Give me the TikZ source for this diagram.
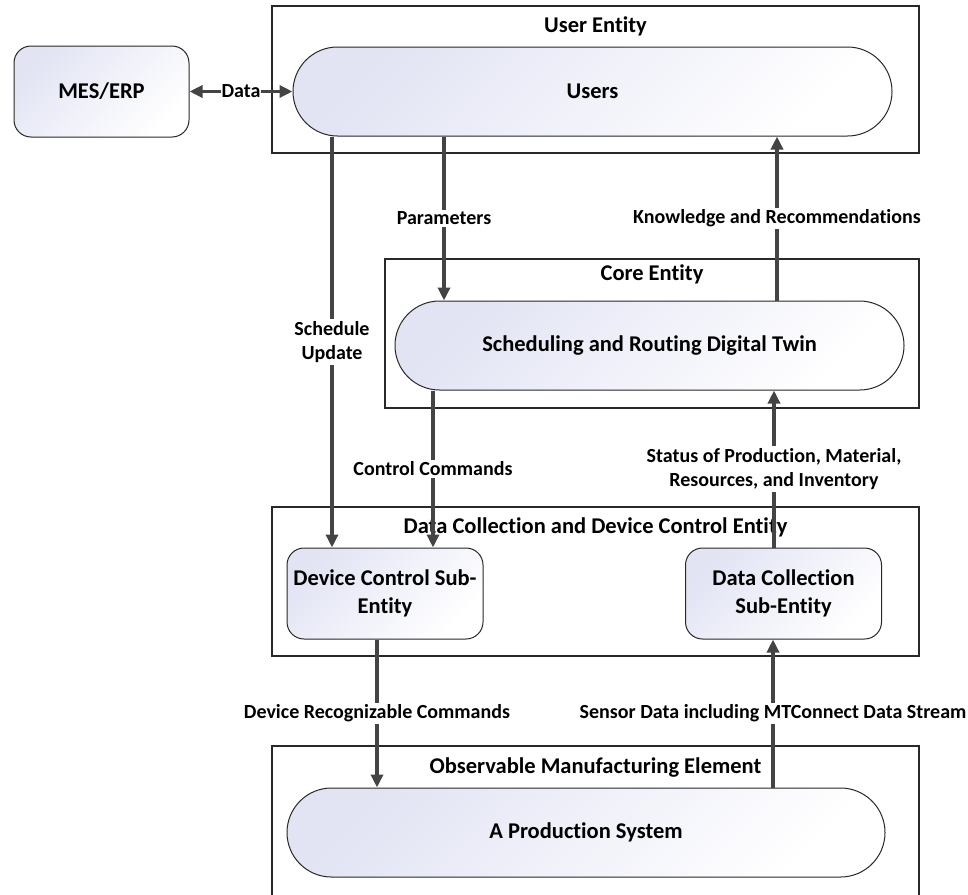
\documentclass[tikz,border=0pt]{standalone}
\usepackage{fontspec}
\setmainfont{Carlito}[Ligatures=NoCommon]
\usetikzlibrary{arrows.meta,positioning,shapes.misc}
\definecolor{EntLavender}{RGB}{226,228,244}
\definecolor{ArrGrey}{RGB}{68,68,68}
\definecolor{EdgeGrey}{RGB}{40,40,40}
\tikzset{
    ent/.style={rectangle, draw=EdgeGrey, line width=1.1pt, inner sep=0pt},
    ttl/.style={font=\fontsize{22.5}{27}\selectfont\bfseries, inner sep=0pt,
                text height=14.5pt, text depth=5pt},
    pill/.style={rounded rectangle, draw=EdgeGrey, line width=1pt,
                 top color=EntLavender, bottom color=white, shading angle=45,
                 minimum width=#1, minimum height=89pt, inner sep=0pt,
                 font=\fontsize{22.5}{27.5}\selectfont\bfseries},
    sub/.style={rectangle, rounded corners=17pt, draw=EdgeGrey, line width=1pt,
                top color=EntLavender, bottom color=white, shading angle=45,
                minimum width=#1, minimum height=91pt, inner sep=0pt, align=center,
                font=\fontsize{22.5}{27.5}\selectfont\bfseries},
    sub/.default=196pt,
    arr/.style={-{Triangle[length=13pt,width=12pt]}, line width=3.5pt, draw=ArrGrey},
    darr/.style={{Triangle[length=13pt,width=12pt]}-{Triangle[length=13pt,width=12pt]},
                 line width=3.5pt, draw=ArrGrey},
    lbl/.style={font=\fontsize{20}{24}\selectfont\bfseries, fill=white,
                inner sep=2pt, align=center},
}
\begin{document}
\begin{tikzpicture}[x=1pt, y=-1pt]
    \useasboundingbox (0,0) rectangle (968,894);
    % entity frames
    \node[ent, minimum width=647pt, minimum height=147pt] (userent) at (595.5,79.5) {};
    \node[ent, minimum width=534pt, minimum height=149pt] (coreent) at (652,333.5) {};
    \node[ent, minimum width=647pt, minimum height=149pt] (dcent)   at (595.5,581.5) {};
    \node[ent, minimum width=647pt, minimum height=174pt] (obsent)  at (595.5,833) {};

    \node[ttl, below=12pt of userent.north] (userttl) {User Entity};
    \node[ttl, below=7pt of coreent.north]  (corettl) {Core Entity};
    \node[ttl, below=12pt of dcent.north]   (dcttl)   {Data Collection and Device Control Entity};
    \node[ttl, below=13pt of obsent.north]  (obsttl)  {Observable Manufacturing Element};

    % inner blocks
    \node[sub=175pt]  (mes)     at (101.5,91.5) {MES/ERP};
    \node[pill=599pt] (users)   at (592.5,91.5) {Users};
    \node[pill=509pt] (twin)    at (649.5,345.5) {Scheduling and Routing Digital Twin};
    \node[sub]        (devctl)  at (385,593.5) {Device Control Sub-\\Entity};
    \node[sub]        (datacol) at (783.5,593.5) {Data Collection\\Sub-Entity};
    \node[pill=598pt] (prod)    at (586,832.5) {A Production System};

    % arrow columns
    \coordinate (xsched)  at (332,0);
    \coordinate (xparam)  at (444,0);
    \coordinate (xknow)   at (777,0);
    \coordinate (xctrl)   at (433,0);
    \coordinate (xstat)   at (774,0);
    \coordinate (xdevrec) at (377,0);
    \coordinate (xsens)   at (773,0);

    \draw[darr] (mes.east) -- node[lbl, inner sep=1pt]{Data} (users.west);
    \draw[arr] (users.south -| xsched) -- node[lbl]{Schedule\\Update} (devctl.north -| xsched);
    \draw[arr] (users.south -| xparam) -- node[lbl]{Parameters} (twin.north -| xparam);
    \draw[arr] (twin.north -| xknow) -- node[lbl]{Knowledge and Recommendations} (users.south -| xknow);
    \draw[arr] (twin.south -| xctrl) -- node[lbl]{Control Commands} (devctl.north -| xctrl);
    \draw[arr] (datacol.north -| xstat) -- node[lbl]{Status of Production, Material,\\Resources, and Inventory} (twin.south -| xstat);
    \draw[arr] (devctl.south -| xdevrec) -- node[lbl]{Device Recognizable Commands} (prod.north -| xdevrec);
    \draw[arr] (prod.north -| xsens) -- node[lbl]{Sensor Data including MTConnect Data Stream} (datacol.south -| xsens);
\end{tikzpicture}
\end{document}
